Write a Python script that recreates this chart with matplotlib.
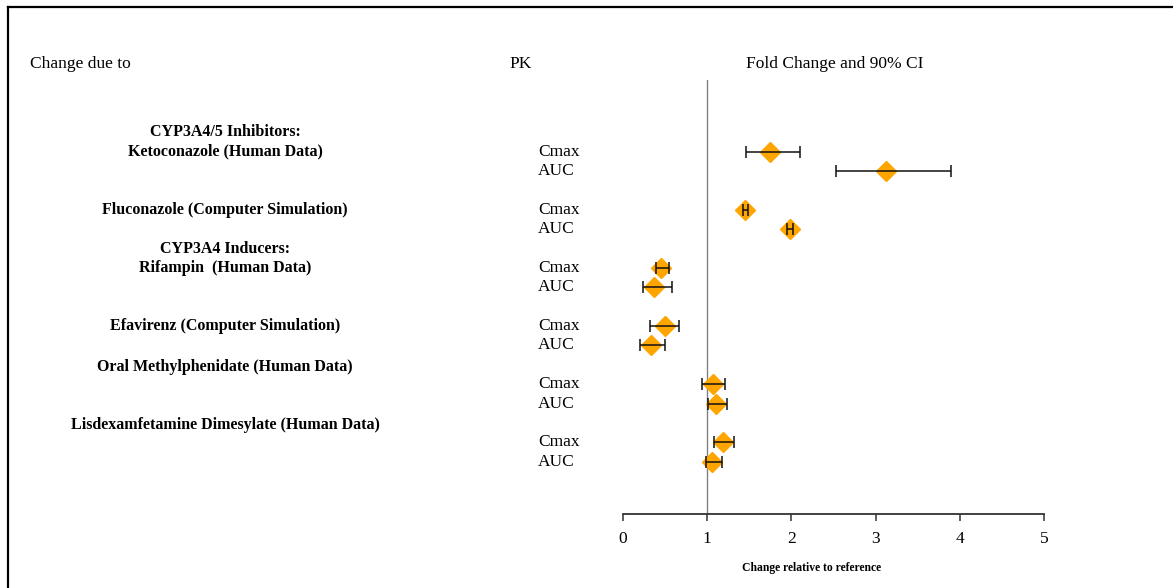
import matplotlib
matplotlib.use("Agg")
import matplotlib.pyplot as plt
from matplotlib.lines import Line2D
from matplotlib.transforms import blended_transform_factory

plt.rcParams['font.family'] = ['Liberation Serif', 'DejaVu Serif']

groups = ["CYP3A4/5 Inhibitors:\nKetoconazole (Human Data)",
          "Fluconazole (Computer Simulation)",
          "CYP3A4 Inducers:\nRifampin  (Human Data)",
          "Efavirenz (Computer Simulation)",
          "Oral Methylphenidate (Human Data)",
          "Lisdexamfetamine Dimesylate (Human Data)"]
pk_names = ["Cmax", "AUC"]

cmax_est = [1.75, 1.45, 0.45, 0.50, 1.07, 1.19]
cmax_lo = [1.46, 1.43, 0.39, 0.32, 0.94, 1.08]
cmax_hi = [2.10, 1.48, 0.55, 0.67, 1.21, 1.32]
auc_est = [3.12, 1.98, 0.37, 0.33, 1.10, 1.06]
auc_lo = [2.53, 1.95, 0.24, 0.20, 1.01, 0.99]
auc_hi = [3.90, 2.02, 0.58, 0.50, 1.24, 1.17]

xticks = [0, 1, 2, 3, 4, 5]

# rows the group title sits above its Cmax row
label_shift = [0, 0, 0, 0, 0.9, 0.9]

W, H = 1173, 588
fig = plt.figure(figsize=(W / 100, H / 100), dpi=100)
ax = fig.add_axes([623 / W, 1 - 514 / H, 421 / W, (514 - 80) / H])

y_cmax = [3 * i for i in range(len(groups))]
y_auc = [3 * i + 1 for i in range(len(groups))]

orange = "#FFA500"
ax.axvline(1, color="#808080", lw=1.0, zorder=1)

for est, lo, hi, ys in [(cmax_est, cmax_lo, cmax_hi, y_cmax),
                        (auc_est, auc_lo, auc_hi, y_auc)]:
    ax.plot(est, ys, ls="none", marker="D", ms=10.5, color=orange,
            mec=orange, zorder=2)
    err = [[e - l for e, l in zip(est, lo)], [h - e for e, h in zip(est, hi)]]
    ax.errorbar(est, ys, xerr=err, fmt="none", ecolor="#111111",
                elinewidth=1.1, capsize=4, capthick=1.1, zorder=3)

ax.set_xlim(0, 5)
ax.set_ylim(18.69, -3.69)
ax.set_xticks(xticks)
ax.set_xticklabels([str(t) for t in xticks], fontsize=12.5)
ax.tick_params(axis="x", direction="out", length=5, width=1.1,
               color="#333333", pad=7)
ax.set_yticks([])
for s in ["top", "right", "left"]:
    ax.spines[s].set_visible(False)
ax.spines["bottom"].set_color("#333333")
ax.spines["bottom"].set_linewidth(1.3)

tr = blended_transform_factory(fig.transFigure, ax.transData)
for i, g in enumerate(groups):
    lines = g.split("\n")
    base = y_cmax[i] - label_shift[i]
    for k, line in enumerate(reversed(lines)):
        ax.text(225 / W, base - k, line, transform=tr, ha="center",
                va="center", fontsize=11.5, fontweight="bold")
    ax.text(538 / W, y_cmax[i], pk_names[0], transform=tr, ha="left",
            va="center", fontsize=12.5)
    ax.text(538 / W, y_auc[i], pk_names[1], transform=tr, ha="left",
            va="center", fontsize=12.5)

fig.text(30 / W, 1 - 64 / H, "Change due to", ha="left", va="center", fontsize=12.5)
fig.text(509 / W, 1 - 64 / H, "PK", ha="left", va="center", fontsize=12.5)
fig.text(835 / W, 1 - 64 / H, "Fold Change and 90% CI", ha="center",
         va="center", fontsize=12.5)
fig.text(812 / W, 1 - 568 / H, "Change relative to reference", ha="center",
         va="center", fontsize=8.4, fontweight="bold")

# frame lines on top and left
fig.add_artist(Line2D([8 / W, 1], [1 - 7 / H, 1 - 7 / H], color="black",
                      lw=1.6, transform=fig.transFigure))
fig.add_artist(Line2D([8 / W, 8 / W], [0, 1 - 7 / H], color="black",
                      lw=1.6, transform=fig.transFigure))

fig.savefig("out.png", dpi=100, facecolor="white")
